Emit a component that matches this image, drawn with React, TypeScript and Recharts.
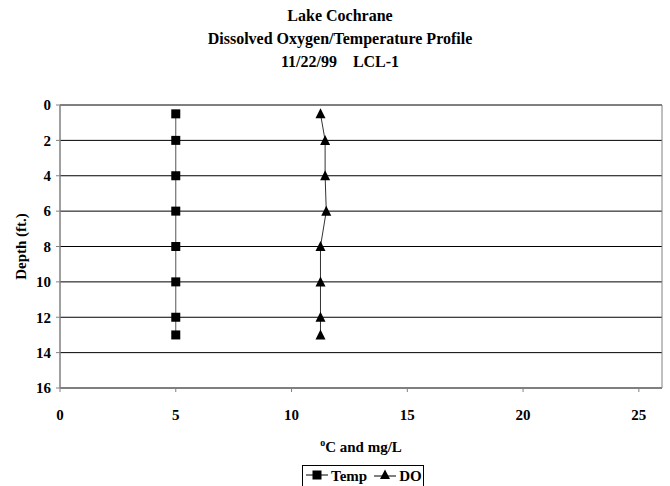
import { ScatterChart, Scatter, XAxis, YAxis, CartesianGrid, ReferenceArea, Label } from 'recharts';

const depths = [0.5, 2, 4, 6, 8, 10, 12, 13];
const tempValues = [5, 5, 5, 5, 5, 5, 5, 5];
const doValues = [11.25, 11.45, 11.45, 11.5, 11.25, 11.25, 11.25, 11.25];
const xTicks = [0, 5, 10, 15, 20, 25];
const yTicks = [0, 2, 4, 6, 8, 10, 12, 14, 16];
const titleLines = ['Lake Cochrane', 'Dissolved Oxygen/Temperature Profile', '11/22/99\u00a0\u00a0\u00a0\u00a0LCL-1'];

const tempData = depths.map((d, i) => ({ x: tempValues[i], y: d }));
const doData = depths.map((d, i) => ({ x: doValues[i], y: d }));

const FONT = '"Liberation Serif", "Times New Roman", serif';
const AXIS_GRAY = '#808080';

const SquareShape = (props: any) => {
  const { cx, cy } = props;
  return <rect x={cx - 4.5} y={cy - 4.5} width={9} height={9} fill="#000" />;
};

const TriangleShape = (props: any) => {
  const { cx, cy } = props;
  return <polygon points={`${cx},${cy - 5.5} ${cx + 5},${cy + 4.5} ${cx - 5},${cy + 4.5}`} fill="#000" />;
};

const tickStyle = { fill: '#000', fontFamily: FONT, fontWeight: 700, fontSize: 15 };

const App = () => {
  return (
    <div style={{ position: 'relative', width: 670, height: 486, overflow: 'hidden', background: '#fff', fontFamily: FONT }}>
      <style>{`body { margin: 0; }`}</style>
      <div
        style={{
          position: 'absolute',
          top: 4,
          left: 0,
          width: 680,
          textAlign: 'center',
          fontWeight: 700,
          fontSize: 16,
          lineHeight: '23px',
        }}
      >
        {titleLines.map((t) => (
          <div key={t}>{t}</div>
        ))}
      </div>
      <ScatterChart width={670} height={486} margin={{ top: 105, right: 8, bottom: 48, left: 0 }}>
        <CartesianGrid horizontal vertical={false} stroke="#000" strokeWidth={1} />
        <ReferenceArea x1={0} x2={26} y1={0} y2={16} fill="none" stroke={AXIS_GRAY} strokeWidth={1} ifOverflow="visible" />
        <XAxis
          type="number"
          dataKey="x"
          domain={[0, 26]}
          ticks={xTicks}
          allowDataOverflow
          height={50}
          tickSize={4}
          tickMargin={17}
          stroke={AXIS_GRAY}
          tick={tickStyle}
        >
          <Label
            position="bottom"
            content={({ viewBox }: any) => (
              <text
                x={viewBox.x + viewBox.width / 2}
                y={viewBox.y + 64}
                textAnchor="middle"
                fontFamily={FONT}
                fontWeight={700}
                fontSize={15}
                fill="#000"
              >
                <tspan fontSize={10} dy={-6}>o</tspan>
                <tspan dy={6}>C and mg/L</tspan>
              </text>
            )}
          />
        </XAxis>
        <YAxis
          type="number"
          dataKey="y"
          reversed
          domain={[0, 16]}
          ticks={yTicks}
          width={60}
          tickSize={4}
          tickMargin={5}
          stroke={AXIS_GRAY}
          tick={tickStyle}
        >
          <Label
            content={({ viewBox }: any) => {
              const cy = viewBox.y + viewBox.height / 2;
              return (
                <text
                  x={26}
                  y={cy}
                  transform={`rotate(-90, 26, ${cy})`}
                  textAnchor="middle"
                  fontFamily={FONT}
                  fontWeight={700}
                  fontSize={15}
                  fill="#000"
                >
                  Depth (ft.)
                </text>
              );
            }}
          />
        </YAxis>
        <Scatter
          name="Temp"
          data={tempData}
          line={{ stroke: '#555', strokeWidth: 1 }}
          lineJointType="linear"
          shape={SquareShape}
          isAnimationActive={false}
        />
        <Scatter
          name="DO"
          data={doData}
          line={{ stroke: '#333', strokeWidth: 1 }}
          lineJointType="linear"
          shape={TriangleShape}
          isAnimationActive={false}
        />
      </ScatterChart>
      <div
        style={{
          position: 'absolute',
          left: 302,
          top: 465,
          width: 122,
          height: 30,
          border: '1px solid #000',
          boxSizing: 'border-box',
          display: 'flex',
          alignItems: 'flex-start',
          paddingLeft: 3,
          paddingTop: 1,
          fontWeight: 700,
          fontSize: 15,
          lineHeight: '18px',
        }}
      >
        <svg width={22} height={18}>
          <line x1={0} y1={8} x2={22} y2={8} stroke="#000" />
          <rect x={6.5} y={3.5} width={9} height={9} fill="#000" />
        </svg>
        <span style={{ marginLeft: 3, marginRight: 7 }}>Temp</span>
        <svg width={22} height={18}>
          <line x1={0} y1={9} x2={22} y2={9} stroke="#000" />
          <polygon points="11,2.5 16,12 6,12" fill="#000" />
        </svg>
        <span style={{ marginLeft: 3 }}>DO</span>
      </div>
    </div>
  );
};

export default App;
